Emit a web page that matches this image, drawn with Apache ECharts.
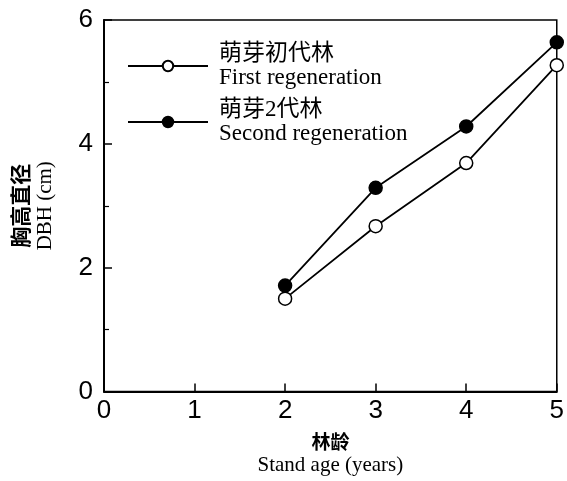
<!DOCTYPE html>
<html><head><meta charset="utf-8">
<script src="https://cdn.jsdelivr.net/npm/echarts@6/dist/echarts.min.js"></script>
<style>html,body{margin:0;padding:0;background:#fff}#c{width:567px;height:481px}</style>
</head><body><div id="c"></div>
<script>
var ages = [2, 3, 4, 5];
var firstRegen = [1.50, 2.67, 3.69, 5.27];
var secondRegen = [1.71, 3.29, 4.28, 5.64];
var seriesNames = ['萌芽初代林\nFirst regeneration', '萌芽2代林\nSecond regeneration'];
var xTicks = [0, 1, 2, 3, 4, 5];
var yTicks = [0, 2, 4, 6];

var serif = '"Liberation Serif", "Noto Sans CJK SC", serif';
var sans = '"Liberation Sans", Arial, sans-serif';
function pairs(xs, ys){ return xs.map(function(x,i){ return [x, ys[i]]; }); }

var chart = echarts.init(document.getElementById('c'), null, {renderer:'canvas'});
chart.setOption({
  animation:false,
  backgroundColor:'#fff',
  grid:{left:104, right:6, top:20, bottom:88, show:true, borderColor:'#000', borderWidth:1.5, backgroundColor:'transparent'},
  legend:{
    left:127, top:42, padding:0, orient:'vertical', itemWidth:80, itemHeight:13, itemGap:8,
    data:seriesNames,
    textStyle:{fontFamily:serif, fontSize:23, color:'#000', lineHeight:24, padding:[0,0,0,6]}
  },
  xAxis:{
    type:'value', min:0, max:5, interval:1,
    axisLine:{lineStyle:{color:'#000', width:2}},
    axisTick:{inside:true, length:8, lineStyle:{color:'#000', width:1.5}},
    axisLabel:{fontFamily:sans, fontSize:26, color:'#000', margin:6,
      customValues: xTicks},
    splitLine:{show:false},
    name:'{a|林龄}\n{b|Stand age (years)}', nameLocation:'middle', nameGap:38,
    nameTextStyle:{rich:{
      a:{fontFamily:'"Noto Sans CJK SC"', fontWeight:'bold', fontSize:19, color:'#000', lineHeight:24, align:'center'},
      b:{fontFamily:serif, fontSize:21, color:'#000', lineHeight:24, align:'center'}}}
  },
  yAxis:{
    type:'value', min:0, max:6, interval:2,
    axisLine:{lineStyle:{color:'#000', width:2}},
    axisTick:{inside:true, length:8, lineStyle:{color:'#000', width:1.5}},
    minorTick:{show:true, splitNumber:2, length:5, lineStyle:{color:'#000', width:1.2}},
    axisLabel:{fontFamily:sans, fontSize:26, color:'#000', margin:11, customValues: yTicks},
    splitLine:{show:false},
    name:'{a|胸高直径}\n{b|DBH (cm)}', nameLocation:'middle', nameGap:46, nameRotate:90,
    nameTextStyle:{rich:{
      a:{fontFamily:'"Noto Sans CJK SC"', fontWeight:'bold', fontSize:21, color:'#000', lineHeight:25, align:'center'},
      b:{fontFamily:serif, fontSize:21, color:'#000', lineHeight:25, align:'center'}}}
  },
  series:[
    {name:seriesNames[0], type:'line', data:pairs(ages, firstRegen), symbol:'circle', symbolSize:13,
     lineStyle:{color:'#000', width:1.8}, itemStyle:{color:'#fff', borderColor:'#000', borderWidth:1.5}, z:3},
    {name:seriesNames[1], type:'line', data:pairs(ages, secondRegen), symbol:'circle', symbolSize:13,
     lineStyle:{color:'#000', width:1.8}, itemStyle:{color:'#000', borderColor:'#000', borderWidth:1.5}, z:2}
  ]
});
</script></body></html>
